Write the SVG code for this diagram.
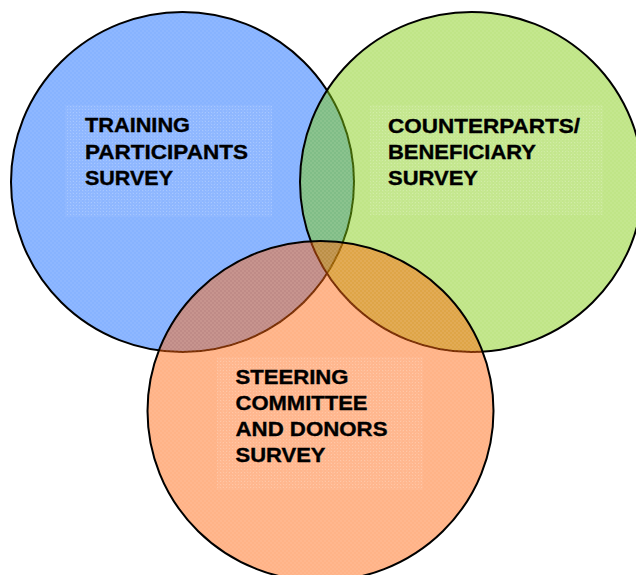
<svg xmlns="http://www.w3.org/2000/svg" width="636" height="575" viewBox="0 0 636 575">
  <defs>
    <pattern id="dots" width="3" height="3" patternUnits="userSpaceOnUse">
      <rect x="1" y="1" width="1" height="1" fill="#ffffff" fill-opacity="0.2"/>
    </pattern>
    <pattern id="check" width="4" height="4" patternUnits="userSpaceOnUse">
      <rect x="0" y="0" width="2" height="2" fill="#ffffff" fill-opacity="0.06"/>
      <rect x="2" y="2" width="2" height="2" fill="#ffffff" fill-opacity="0.06"/>
    </pattern>
  </defs>
  <style>
    .circ { stroke: #000000; stroke-width: 2; fill-opacity: 0.47; }
    .tex { fill: url(#check); stroke: none; }
    .box { fill: url(#dots); stroke: none; }
    .boxbg { fill: #ffffff; fill-opacity: 0.05; stroke: none; }
    .lbl { font-family: "Liberation Sans", Arial, sans-serif; font-weight: bold; font-size: 20.5px; fill: #000000; stroke: #000000; stroke-width: 0.35; }
  </style>
  <rect width="636" height="575" fill="#ffffff"/>
  <g id="connectors"/>
  <g id="training">
    <ellipse class="circ" cx="182.5" cy="182" rx="171.5" ry="170" fill="#005EFF"/>
    <ellipse class="tex" cx="182.5" cy="182" rx="170" ry="168.5"/>
    <rect class="boxbg" x="65" y="105" width="207" height="112"/>
    <rect class="box" x="65" y="105" width="207" height="112"/>
    <text class="lbl" x="85" y="132" textLength="105" lengthAdjust="spacingAndGlyphs">TRAINING</text>
    <text class="lbl" x="85" y="158.5" textLength="163" lengthAdjust="spacingAndGlyphs">PARTICIPANTS</text>
    <text class="lbl" x="85" y="185" textLength="88" lengthAdjust="spacingAndGlyphs">SURVEY</text>
  </g>
  <g id="counterparts">
    <ellipse class="circ" cx="471.5" cy="182" rx="171.5" ry="170" fill="#79C800"/>
    <ellipse class="tex" cx="471.5" cy="182" rx="170" ry="168.5"/>
    <rect class="boxbg" x="370" y="105" width="233" height="110"/>
    <rect class="box" x="370" y="105" width="233" height="110"/>
    <text class="lbl" x="388" y="132.5" textLength="192" lengthAdjust="spacingAndGlyphs">COUNTERPARTS/</text>
    <text class="lbl" x="388" y="158.5" textLength="148" lengthAdjust="spacingAndGlyphs">BENEFICIARY</text>
    <text class="lbl" x="388" y="185" textLength="90" lengthAdjust="spacingAndGlyphs">SURVEY</text>
  </g>
  <g id="steering">
    <ellipse class="circ" cx="320.5" cy="411" rx="173" ry="170" fill="#FF5E00"/>
    <ellipse class="tex" cx="320.5" cy="411" rx="171.5" ry="168.5"/>
    <rect class="boxbg" x="217" y="357" width="206" height="133"/>
    <rect class="box" x="217" y="357" width="206" height="133"/>
    <text class="lbl" x="235.5" y="383.5" textLength="113" lengthAdjust="spacingAndGlyphs">STEERING</text>
    <text class="lbl" x="235.5" y="409.5" textLength="132" lengthAdjust="spacingAndGlyphs">COMMITTEE</text>
    <text class="lbl" x="235.5" y="435.5" textLength="152" lengthAdjust="spacingAndGlyphs">AND DONORS</text>
    <text class="lbl" x="235.5" y="461.5" textLength="90" lengthAdjust="spacingAndGlyphs">SURVEY</text>
  </g>
</svg>
